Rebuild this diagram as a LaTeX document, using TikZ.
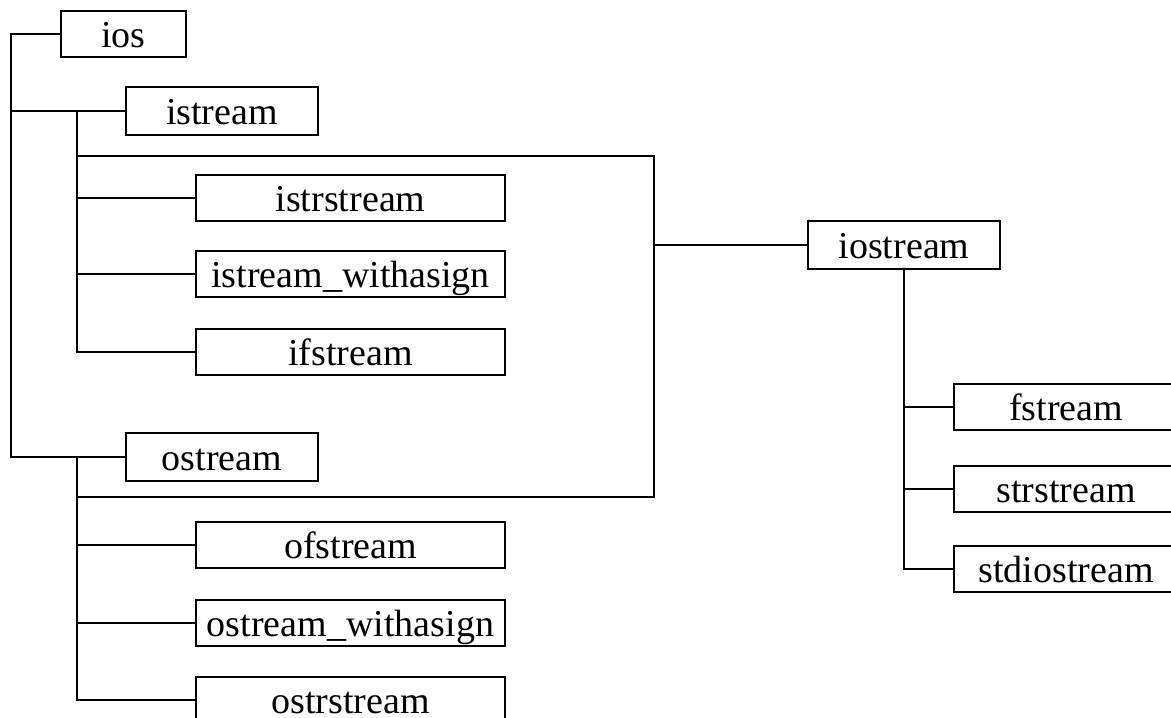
\documentclass[tikz,border=0pt]{standalone}
\usepackage{fontspec}
\setmainfont{Liberation Serif}
\newfontfamily\clsfont{Liberation Serif}
\begin{document}
\begin{tikzpicture}[x=1pt,y=-1pt,line width=2pt,line join=miter,
  cls/.style={draw, anchor=north west, inner sep=0pt, font=\clsfont\fontsize{38}{40}\selectfont,
    text height=26pt, text depth=0pt},
  small/.style={cls, minimum width=125pt, minimum height=46pt},
  mid/.style={cls, minimum width=192pt, minimum height=48pt},
  wide/.style={cls, minimum width=309pt, minimum height=46pt},
  right/.style={cls, minimum width=224pt, minimum height=46pt}]
\useasboundingbox (0,0) rectangle (1171,718);
\clip (0,0) rectangle (1171,718);
% nodes
\node[small] (ios) at (60,10) {ios};
\node[mid] (istream) at (125,86) {istream};
\node[wide] (istrstream) at (195,174) {istrstream};
\node[wide] (istreamwa) at (195,250) {istream\_withasign};
\node[wide] (ifstream) at (195,328) {ifstream};
\node[mid] (ostream) at (125,432) {ostream};
\node[wide] (ofstream) at (195,521) {ofstream};
\node[wide] (ostreamwa) at (195,599) {ostream\_withasign};
\node[wide] (ostrstream) at (195,676) {ostrstream};
\node[mid] (iostream) at (807,220) {iostream};
\node[right] (fstream) at (953,383) {fstream};
\node[right] (strstream) at (953,465) {strstream};
\node[right] (stdiostream) at (953,545) {stdiostream};
% helper coordinates
\coordinate (trunk) at (11,0);
\coordinate (ib) at (77,0);
\coordinate (jx) at (654,0);
\coordinate (top) at (77,156);
\coordinate (bot) at (77,497);
% connectors
\draw (ios.west) -- (ios.west -| trunk) -- (ostream.west -| trunk) -- (ostream.west);
\draw (istream.west) -- (istream.west -| trunk);
\draw (istream.west -| ib) -- (ifstream.west -| ib) -- (ifstream.west);
\draw (istrstream.west) -- (istrstream.west -| ib);
\draw (istreamwa.west) -- (istreamwa.west -| ib);
\draw (ostream.west -| ib) -- (ostrstream.west -| ib) -- (ostrstream.west);
\draw (ofstream.west) -- (ofstream.west -| ib);
\draw (ostreamwa.west) -- (ostreamwa.west -| ib);
\draw (top) -- (top -| jx) -- (bot -| jx) -- (bot);
\draw (iostream.west) -- (iostream.west -| jx);
\draw (iostream.south) |- (stdiostream.west);
\draw (fstream.west) -- (fstream.west -| iostream.south);
\draw (strstream.west) -- (strstream.west -| iostream.south);
\end{tikzpicture}
\end{document}
